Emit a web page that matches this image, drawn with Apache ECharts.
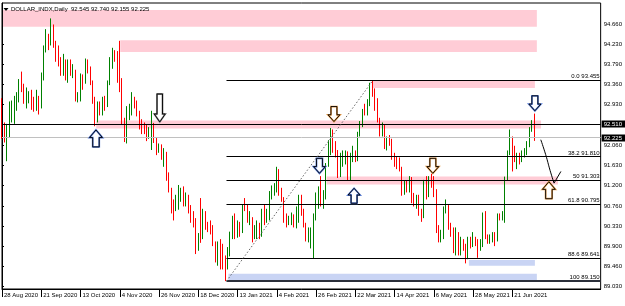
<!DOCTYPE html>
<html><head><meta charset="utf-8">
<script src="https://cdn.jsdelivr.net/npm/echarts@6/dist/echarts.min.js"></script>
<style>html,body{margin:0;padding:0;background:#fff}#c{width:625px;height:306px}</style>
</head><body><div id="c"></div>
<script>
// ---------- data ----------
const startDate = '2020-08-28';
const holidays = ['2020-12-25', '2021-01-01', '2021-04-02'];
const slotCount = 245; // chart shift: empty slots to the right of the last bar
// daily candles [open, high, low, close]
const candles = [
[92.98,93.07,92.20,92.37],[92.37,92.55,92.12,92.14],[92.14,92.52,91.72,92.33],[92.33,93.00,92.22,92.70],
[92.70,93.02,92.55,92.80],[92.80,93.12,92.52,92.86],[92.86,93.20,92.80,93.06],[93.06,93.48,92.98,93.44],
[93.44,93.64,93.20,93.24],[93.24,93.38,92.95,93.05],[93.05,93.30,92.85,93.28],[93.10,93.22,92.96,93.18],
[93.18,93.25,92.82,92.90],[92.90,93.10,92.78,92.86],[92.86,93.25,92.80,93.10],[93.10,93.12,92.72,92.93],
[92.93,93.62,92.85,93.55],[93.55,94.20,93.45,94.15],[94.15,94.55,94.05,94.40],[94.40,94.45,94.10,94.30],
[94.30,94.78,94.20,94.62],[94.62,94.65,94.15,94.25],[94.25,94.30,93.85,93.90],[93.90,94.20,93.75,93.88],
[93.88,93.95,93.55,93.70],[93.70,94.02,93.55,93.85],[93.85,93.90,93.45,93.50],[93.50,93.90,93.40,93.85],
[93.85,93.90,93.55,93.62],[93.58,93.80,93.50,93.65],[93.65,93.68,93.00,93.05],[93.05,93.20,92.98,93.07],
[93.07,93.60,93.00,93.53],[93.53,93.58,93.25,93.40],[93.40,93.92,93.38,93.82],[93.82,93.90,93.60,93.68],
[93.68,93.75,93.35,93.42],[93.42,93.45,92.95,93.05],[93.05,93.10,92.47,92.60],[92.60,93.00,92.55,92.95],
[92.95,93.00,92.70,92.77],[92.77,93.10,92.70,93.05],[93.05,93.12,92.80,92.93],[92.93,93.45,92.88,93.40],
[93.40,93.95,93.35,93.92],[93.92,94.15,93.70,94.04],[94.04,94.10,93.85,93.98],[93.98,94.08,93.40,93.48],
[93.48,94.30,93.20,93.43],[93.43,93.50,92.50,92.53],[92.53,92.65,92.13,92.23],[92.23,92.90,92.10,92.73],
[92.73,92.95,92.60,92.76],[92.76,93.20,92.70,93.00],[93.00,93.10,92.85,92.97],[92.97,93.02,92.68,92.76],
[92.76,92.80,92.40,92.56],[92.56,92.62,92.30,92.43],[92.43,92.55,92.30,92.35],[92.35,92.50,92.15,92.30],
[92.30,92.45,92.20,92.39],[92.39,92.80,91.96,92.50],[92.50,92.54,92.11,92.19],[92.19,92.22,91.85,92.01],
[92.01,92.10,91.90,92.04],[92.04,92.08,91.75,91.78],[91.78,92.00,91.60,91.87],[91.87,91.92,91.30,91.32],
[91.32,91.48,91.05,91.11],[91.11,91.15,90.60,90.71],[90.71,90.90,90.45,90.70],[90.70,91.00,90.65,90.80],
[90.80,91.21,90.68,90.95],[90.95,91.15,90.85,91.11],[91.11,91.18,90.75,90.82],[90.82,91.05,90.75,90.98],
[90.98,91.00,90.60,90.73],[90.73,90.78,90.40,90.45],[90.45,90.65,90.30,90.42],[90.42,90.50,89.73,89.82],
[89.82,90.18,89.80,90.02],[90.30,90.93,89.97,90.08],[90.08,90.70,90.05,90.63],[90.63,90.65,90.25,90.36],
[90.36,90.42,90.20,90.33],[90.33,90.45,90.15,90.30],[90.30,90.35,89.90,89.96],[89.96,90.00,89.55,89.66],
[89.66,90.00,89.48,89.94],[89.94,90.05,89.40,89.88],[89.88,89.95,89.40,89.43],[89.55,89.70,89.15,89.45],
[89.45,89.88,89.40,89.84],[89.84,90.21,89.68,90.10],[90.10,90.55,90.05,90.47],[90.47,90.60,90.05,90.11],
[90.11,90.45,90.08,90.38],[90.38,90.42,90.10,90.24],[90.24,90.80,90.18,90.77],[90.85,90.93,90.65,90.78],
[90.78,90.80,90.40,90.48],[90.48,90.65,90.35,90.50],[90.50,90.52,89.98,90.12],[90.12,90.35,90.05,90.22],
[90.22,90.45,90.05,90.37],[90.37,90.40,90.05,90.15],[90.15,90.70,90.10,90.63],[90.63,90.80,90.35,90.45],
[90.45,90.70,90.40,90.58],[90.58,91.08,90.45,91.02],[91.02,91.20,90.90,91.12],[91.12,91.25,90.98,91.15],
[91.15,91.60,91.05,91.53],[91.53,91.55,90.98,91.04],[91.04,91.15,90.85,90.94],[90.94,90.95,90.40,90.44],
[90.44,90.60,90.30,90.40],[90.40,90.55,90.35,90.45],[90.45,90.62,90.35,90.55],[90.55,90.58,90.30,90.36],
[90.36,90.75,90.28,90.48],[90.48,91.00,90.40,90.94],[90.94,91.00,90.55,90.60],[90.60,90.70,90.30,90.36],
[90.36,90.40,90.00,90.08],[90.08,90.30,89.98,90.12],[90.12,90.30,89.85,90.16],[89.95,90.60,89.64,90.50],
[90.50,91.05,90.45,90.91],[90.91,91.18,90.70,91.04],[91.04,91.40,90.75,90.79],[90.79,91.10,90.70,90.97],
[90.97,91.68,90.90,91.65],[91.65,92.17,91.60,91.94],[91.94,92.43,91.85,92.34],[92.34,92.40,91.90,92.03],
[92.03,92.15,91.80,91.82],[91.82,91.96,91.36,91.42],[91.42,91.90,91.38,91.67],[91.67,91.95,91.60,91.82],
[91.82,91.95,91.65,91.87],[91.87,91.93,91.30,91.44],[91.44,91.90,91.30,91.86],[91.86,92.05,91.70,91.92],
[91.92,91.95,91.70,91.76],[91.76,92.35,91.72,92.33],[92.33,92.58,92.25,92.52],[92.52,92.84,92.45,92.83],
[92.83,92.95,92.70,92.73],[92.73,93.05,92.70,92.94],[92.94,93.40,92.90,93.29],[93.29,93.44,93.10,93.23],
[93.23,93.28,92.80,92.93],[92.93,93.07,92.55,92.59],[92.59,92.65,92.25,92.34],[92.34,92.55,92.25,92.47],
[92.47,92.50,91.98,92.05],[92.05,92.25,91.95,92.16],[92.16,92.28,92.05,92.12],[92.12,92.20,91.75,91.84],
[91.84,91.90,91.60,91.70],[91.70,91.82,91.55,91.67],[91.67,91.80,91.50,91.56],[91.56,91.60,90.98,91.06],
[91.06,91.30,91.00,91.25],[91.25,91.30,91.05,91.14],[91.14,91.40,91.05,91.35],[91.35,91.38,90.82,90.86],
[90.86,91.04,90.75,90.82],[90.82,91.00,90.70,90.92],[90.92,91.00,90.55,90.62],[90.62,90.70,90.42,90.56],
[90.56,91.32,90.50,91.28],[91.28,91.40,90.90,91.00],[91.00,91.40,90.95,91.29],[91.29,91.45,91.15,91.25],
[91.25,91.40,90.95,91.09],[91.09,91.12,90.18,90.22],[90.22,90.35,89.98,90.09],[90.09,90.25,89.98,90.14],
[90.14,90.75,90.05,90.70],[90.70,90.90,90.60,90.73],[90.73,90.78,90.25,90.31],[90.31,90.40,90.10,90.24],
[90.24,90.30,89.75,89.84],[89.84,90.30,89.70,90.15],[90.15,90.20,89.70,89.79],[89.79,90.10,89.70,90.01],
[90.01,90.05,89.80,89.83],[89.83,89.95,89.53,89.67],[89.67,90.10,89.62,90.07],[90.07,90.10,89.85,89.99],
[89.99,90.20,89.88,90.03],[90.03,90.10,89.90,89.98],[89.98,90.05,89.65,89.85],[89.85,90.05,89.80,89.92],
[89.92,90.62,89.88,90.53],[90.53,90.65,90.05,90.11],[90.11,90.15,89.95,90.00],[90.00,90.15,89.95,90.08],
[90.08,90.20,89.98,90.11],[90.11,90.20,89.90,90.06],[90.06,90.60,90.00,90.56],[90.56,90.60,90.45,90.52],
[90.52,90.65,90.45,90.54],[90.54,91.39,90.40,91.36],[91.36,91.95,91.30,91.91],[91.91,92.40,91.85,92.23],
[92.23,92.25,91.50,91.87],[91.87,92.05,91.70,91.73],[91.73,91.90,91.55,91.81],[91.81,91.90,91.65,91.78],
[91.78,91.95,91.70,91.84],[91.84,92.00,91.80,91.90],[91.90,92.15,91.85,92.08],[92.08,92.45,92.02,92.44],
[92.44,92.60,92.35,92.545],[92.545,92.740,92.155,92.225]
];
const yTicks = [94.66, 94.23, 93.79, 93.36, 92.93, 92.06, 91.63, 91.20, 90.76, 90.33, 89.90, 89.46, 89.03];
const yMin = 88.981, yMax = 95.110;
const titleText = 'DOLLAR_INDX,Daily  92.545 92.740 92.155 92.225';
// fibonacci retracement (from Jan low to Mar high)
const fibNames = ['0.0', '38.2', '50', '61.8', '88.6', '100'];
const fibValues = [93.455, 91.810, 91.303, 90.795, 89.641, 89.150];
const fibStart = 91.5;
const levelLine = 92.510;
const bidLine = 92.225;
const trendFrom = [91.5, 89.15], trendTo = [151, 93.44];
// zones: [fromBar, toBar, low, high, tone 0=pink 1=blue]
const zones = [
  [0.4, 218, 94.60, 94.96, 0], [48.2, 218, 94.06, 94.31, 0], [151, 217.2, 93.29, 93.45, 0],
  [38.4, 219.7, 92.42, 92.59, 0], [132.3, 226.6, 91.22, 91.39, 0],
  [92.3, 218, 89.15, 89.31, 1], [190.3, 217.2, 89.48, 89.60, 1]
];
// arrows: [bar, tipValue, dir (1 down, -1 up), tone 0 blue 1 black 2 orange, size]
const arrows = [
  [38.3, 92.39, -1, 0, 2], [64.3, 92.56, 1, 1, 1], [135.3, 92.57, 1, 2, 0], [129.4, 91.46, 1, 0, 0],
  [143.5, 91.14, -1, 0, 0], [175.6, 91.46, 1, 2, 0], [217.2, 92.80, 1, 0, 0], [222.9, 91.28, -1, 2, 2]
];
const curvePts = [[219.6, 92.18], [221.6, 91.86], [223.4, 91.52], [225.0, 91.25]];
const curveHead = [[225.0, 91.25], [227.8, 91.50]];

// ---------- categories ----------
const months = ['Jan','Feb','Mar','Apr','May','Jun','Jul','Aug','Sep','Oct','Nov','Dec'];
const dates = [];
let d = new Date(startDate + 'T00:00:00Z');
while (dates.length < candles.length) {
  const wd = d.getUTCDay(), iso = d.toISOString().slice(0, 10);
  if (wd !== 0 && wd !== 6 && holidays.indexOf(iso) < 0)
    dates.push(d.getUTCDate() + ' ' + months[d.getUTCMonth()] + ' ' + d.getUTCFullYear());
  d = new Date(d.getTime() + 86400000);
}
const cats = dates.slice();
for (let i = cats.length; i < slotCount; i++) cats.push('slot' + i);

const FONT = 'Liberation Sans';
const showLab = (idx) => idx % 16 === 0 && idx < candles.length;
const zoneColors = ['#ffccd6', '#c9d4f4'];
const toneColors = ['#5a7fd8', '#8a8a8a', '#e8a050'];
const arrowSizes = [[12, 15], [11, 28], [13, 17]];

const chart = echarts.init(document.getElementById('c'), null, {renderer: 'canvas'});
const crisp = v => Math.round(v - 0.5) + 0.5;

chart.setOption({
  animation: false,
  backgroundColor: '#fff',
  grid: {left: 2, right: 23, top: 3, bottom: 17, show: true, borderColor: '#000', borderWidth: 1, containLabel: false},
  xAxis: [{
    type: 'category', data: cats, boundaryGap: false,
    axisLine: {show: true, lineStyle: {color: '#000', width: 1}},
    axisTick: {show: true, interval: showLab, length: 8, lineStyle: {color: '#000'}},
    axisLabel: {interval: showLab, align: 'left', fontSize: 6, fontFamily: FONT, color: '#000', margin: 3, padding: [0, 0, 0, 2], showMinLabel: true},
    splitLine: {show: false}
  }, {
    type: 'value', min: 0, max: slotCount - 1, show: false
  }],
  yAxis: {
    type: 'value', position: 'right', min: yMin, max: yMax, scale: true,
    splitLine: {show: false},
    axisLine: {show: true, lineStyle: {color: '#000', width: 1}},
    axisTick: {show: true, customValues: yTicks, length: 2, lineStyle: {color: '#000'}},
    axisLabel: {customValues: yTicks, formatter: v => v.toFixed(3), fontSize: 6, fontFamily: FONT, color: '#000', margin: 3}
  },
  graphic: [
    {type: 'polygon', shape: {points: [[3.5, 8], [8.5, 8], [6, 11]]}, style: {fill: '#000'}, z: 100},
    {type: 'text', left: 11, top: 6, style: {text: titleText, fontSize: 6, fontFamily: FONT, fill: '#000'}, z: 100}
  ],
  series: [
    { // zones (behind candles)
      type: 'custom', xAxisIndex: 1, yAxisIndex: 0, z: 1, silent: true,
      data: zones,
      renderItem: (params, api) => {
        const a = api.coord([api.value(0), api.value(3)]);
        const b = api.coord([api.value(1), api.value(2)]);
        return {type: 'rect', shape: {x: a[0], y: a[1], width: b[0] - a[0], height: b[1] - a[1]},
                style: {fill: zoneColors[api.value(4)]}};
      }
    },
    {
      type: 'candlestick', xAxisIndex: 0, yAxisIndex: 0, z: 2,
      barWidth: 1,
      data: candles.map(c => [c[0], c[3], c[2], c[1]]),
      itemStyle: {color: '#008000', color0: '#ff0000', borderColor: '#008000', borderColor0: '#ff0000', borderWidth: 1, borderColorDoji: '#008000'}
    },
    { // horizontal level lines and fibonacci lines
      type: 'custom', xAxisIndex: 1, yAxisIndex: 0, z: 3, silent: true,
      data: [[0, levelLine, slotCount - 1, levelLine, 0], [0, bidLine, slotCount - 1, bidLine, 1]]
        .concat(fibValues.map((v, i) => [fibStart, v, slotCount - 1, v, i === fibValues.length - 1 ? 3 : 2]))
        .concat([[trendFrom[0], trendFrom[1], trendTo[0], trendTo[1], 4]]),
      renderItem: (params, api) => {
        const k = api.value(4);
        const a = api.coord([api.value(0), api.value(1)]);
        const b = api.coord([api.value(2), api.value(3)]);
        const styles = [
          {stroke: '#000', lineWidth: 1}, {stroke: '#c0c0c0', lineWidth: 1},
          {stroke: '#000', lineWidth: 1}, {stroke: '#2b2f3a', lineWidth: 2},
          {stroke: '#666', lineWidth: 1, lineDash: [1.5, 2]}
        ];
        let y1 = a[1], y2 = b[1];
        if (k === 0 || k === 1 || k === 2) { y1 = y2 = crisp(a[1]); }
        return {type: 'line', shape: {x1: a[0], y1: y1, x2: b[0], y2: y2}, style: styles[k]};
      }
    },
    { // fib labels
      type: 'custom', xAxisIndex: 1, yAxisIndex: 0, z: 4, silent: true,
      data: fibValues.map((v, i) => [slotCount - 1, v, i]),
      renderItem: (params, api) => {
        const p = api.coord([api.value(0), api.value(1)]);
        const i = api.value(2);
        return {type: 'text', x: p[0] - 1, y: p[1] - 1,
          style: {text: fibNames[i] + ' ' + fibValues[i].toFixed(3), fontSize: 6, fontFamily: FONT, fill: '#000', align: 'right', verticalAlign: 'bottom'}};
      }
    },
    { // price tags on the axis
      type: 'custom', xAxisIndex: 1, yAxisIndex: 0, z: 6, silent: true, clip: false,
      data: [[slotCount - 1, levelLine], [slotCount - 1, bidLine]],
      renderItem: (params, api) => {
        const p = api.coord([api.value(0), api.value(1)]);
        const y = Math.round(p[1]);
        return {type: 'group', children: [
          {type: 'rect', shape: {x: p[0] + 1, y: y - 3.5, width: 24, height: 7}, style: {fill: '#000'}},
          {type: 'text', x: p[0] + 3, y: y, style: {text: api.value(1).toFixed(3), fontSize: 6, fontFamily: FONT, fill: '#fff', verticalAlign: 'middle'}}
        ]};
      }
    },
    { // block arrows
      type: 'custom', xAxisIndex: 1, yAxisIndex: 0, z: 5, silent: true, clip: false,
      data: arrows,
      renderItem: (params, api) => {
        const p = api.coord([api.value(0), api.value(1)]);
        const s = api.value(2), tone = api.value(3), sz = arrowSizes[api.value(4)];
        const W = sz[0], H = sz[1], hh = Math.min(H * 0.45, 8), sw = W * 0.5;
        const x = p[0], y = p[1];
        const pts = [[x, y], [x - W / 2, y - s * hh], [x - sw / 2, y - s * hh], [x - sw / 2, y - s * H],
                     [x + sw / 2, y - s * H], [x + sw / 2, y - s * hh], [x + W / 2, y - s * hh]];
        return {type: 'group', children: [
          {type: 'polygon', shape: {points: pts}, style: {fill: '#fff', stroke: toneColors[tone], lineWidth: 1.8}},
          {type: 'polygon', shape: {points: pts}, style: {fill: 'none', stroke: '#000', lineWidth: 0.9}}
        ]};
      }
    },
    { // curved hand-drawn arrow
      type: 'line', xAxisIndex: 1, yAxisIndex: 0, z: 5, silent: true, smooth: true, symbol: 'none',
      data: curvePts, lineStyle: {color: '#000', width: 1}
    },
    {
      type: 'line', xAxisIndex: 1, yAxisIndex: 0, z: 5, silent: true, symbol: 'none',
      data: curveHead, lineStyle: {color: '#000', width: 1}
    }
  ]
});
</script>
</body></html>
